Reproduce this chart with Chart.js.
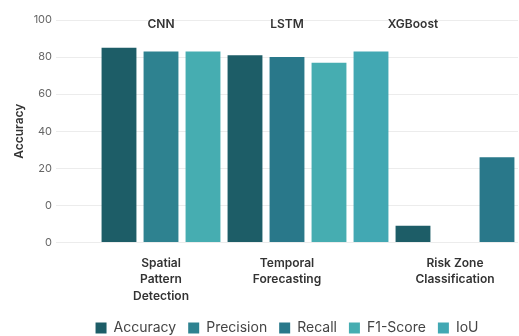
<!DOCTYPE html>
<html>
<head>
<meta charset="utf-8">
<script src="https://cdn.jsdelivr.net/npm/chart.js@4.4.1/dist/chart.umd.min.js"></script>
<style>
    html, body { margin: 0; padding: 0; background: #fff; }
    #wrap { width: 519px; height: 336px; }
</style>
</head>
<body>
<div id="wrap"><canvas id="metricsChart"></canvas></div>
<script>
// one slot per bar, an empty lead slot, and the empty slot inside the XGBoost group
const taskLabels = ['', '', ['Spatial', 'Pattern', 'Detection'], '', '', ['Temporal', 'Forecasting'], '', '', '', ['Risk Zone', 'Classification'], ''];
const modelLabels = ['', '', 'CNN', '', '', 'LSTM', '', '', 'XGBoost', '', ''];

const accuracy  = [null, 85, null, null, 81, null, null, null, -11, null, null];
const precision = [null, null, 83, null, null, null, null, null, null, null, null];
const recall    = [null, null, null, null, null, 80, null, null, null, null, 26];
const f1Score   = [null, null, null, 83, null, null, 77, null, null, null, null];
const iou       = [null, null, null, null, null, null, null, 83, null, null, null];

// tick labels as printed on the axis, bottom to top
const yTickLabels = ['0', '0', '20', '40', '60', '80', '100'];

(function () {
    const canvas = document.getElementById('metricsChart');

    Chart.defaults.font.family = 'Inter, "Noto Sans", sans-serif';

    const modelLabelPlugin = {
        id: 'modelLabels',
        afterDatasetsDraw(chart) {
            const { ctx, scales: { x, y } } = chart;
            ctx.save();
            ctx.font = '600 12px Inter, sans-serif';
            ctx.fillStyle = '#333';
            ctx.textAlign = 'center';
            ctx.textBaseline = 'middle';
            modelLabels.forEach((label, i) => {
                if (!label) return;
                ctx.fillText(label, x.getPixelForValue(i), y.getPixelForValue(100) + 4);
            });
            ctx.restore();
        }
    };

    const barSet = (label, data, color) => ({
        label,
        data,
        backgroundColor: color,
        borderWidth: 0,
        base: -20,
        grouped: false,
        categoryPercentage: 1,
        barPercentage: 0.83
    });

    new Chart(canvas, {
        type: 'bar',
        data: {
            labels: taskLabels,
            datasets: [
                barSet('Accuracy', accuracy, '#1d5d67'),
                barSet('Precision', precision, '#2e8290'),
                barSet('Recall', recall, '#29788a'),
                barSet('F1-Score', f1Score, '#46adb1'),
                barSet('IoU', iou, '#42a8b3')
            ]
        },
        options: {
            responsive: true,
            maintainAspectRatio: false,
            animation: false,
            layout: { padding: { top: 20, right: 1, left: 0, bottom: -9 } },
            plugins: {
                legend: {
                    position: 'bottom',
                    fullSize: false,
                    labels: {
                        boxWidth: 11,
                        boxHeight: 11,
                        padding: 12,
                        color: '#444',
                        font: { size: 14 }
                    }
                },
                tooltip: { enabled: false }
            },
            scales: {
                x: {
                    grid: { display: false },
                    border: { display: false },
                    ticks: {
                        autoSkip: false,
                        maxRotation: 0,
                        minRotation: 0,
                        padding: 5,
                        color: '#333',
                        font: { size: 12, weight: '600', lineHeight: 1.35 }
                    }
                },
                y: {
                    min: -20,
                    max: 100,
                    afterFit: (scale) => { scale.width = 56; },
                    grid: { color: '#ececec', drawTicks: false },
                    border: { display: false },
                    ticks: {
                        stepSize: 20,
                        padding: 4,
                        color: '#666',
                        font: { size: 11 },
                        callback: (value, index) => yTickLabels[index]
                    },
                    title: {
                        display: true,
                        text: 'Accuracy',
                        color: '#333',
                        font: { size: 12, weight: '600' },
                        padding: { top: 12, bottom: 0 }
                    }
                }
            }
        },
        plugins: [modelLabelPlugin]
    });
})();
</script>
</body>
</html>
